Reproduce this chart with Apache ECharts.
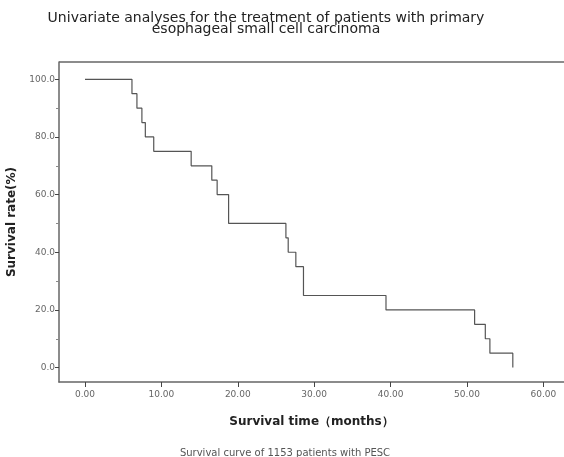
<!DOCTYPE html>
<html>
<head>
<meta charset="utf-8">
<script src="https://cdn.jsdelivr.net/npm/echarts@6/dist/echarts.min.js"></script>
<style>
  html, body { margin: 0; padding: 0; background: #fff; }
  #main { width: 564px; height: 457px; }
</style>
</head>
<body>
<div id="main"></div>
<script>
// survival data (months, %)
var times = [0, 6.15, 6.8, 7.45, 7.9, 9.0, 13.9, 16.6, 17.3, 18.8, 26.3, 26.6, 27.6, 28.6, 39.4, 51.0, 52.4, 53.0, 56.0];
var survival = [100, 95, 90, 85, 80, 75, 70, 65, 60, 50, 45, 40, 35, 25, 20, 15, 10, 5, 0];
var xTicks = [0, 10, 20, 30, 40, 50, 60];
var yTicks = [0, 20, 40, 60, 80, 100];
var yMinorTicks = [10, 30, 50, 70, 90];

var myChart = echarts.init(document.getElementById('main'));
var pts = times.map(function (t, i) { return [t, survival[i]]; });

var option = {
	backgroundColor: '#fff',
	animation: false,
	title: [
		{
			text: 'Univariate analyses for the treatment of patients with primary\nesophageal small cell carcinoma',
			left: 261, top: 8, textAlign: 'center',
			textStyle: { fontFamily: 'DejaVu Sans', fontSize: 14, fontWeight: 'normal', color: '#222', lineHeight: 11 }
		},
		{
			text: 'Survival curve of 1153 patients with PESC',
			left: 280, top: 443, textAlign: 'center',
			textStyle: { fontFamily: 'DejaVu Sans', fontSize: 10, fontWeight: 'normal', color: '#555' }
		}
	],
	grid: { left: 59, top: 62, right: 0, bottom: 75, outerBoundsMode: 'none', containLabel: false },
	xAxis: {
		type: 'value', min: -3.4, max: 62.7,
		name: 'Survival time\uff08months\uff09', nameLocation: 'middle', nameGap: 34,
		nameTextStyle: { fontFamily: 'DejaVu Sans', fontWeight: 'bold', fontSize: 12, color: '#222' },
		splitLine: { show: false },
		axisLine: { onZero: false, lineStyle: { color: '#666', width: 1.5 } },
		axisTick: { customValues: xTicks, length: 5, lineStyle: { color: '#444' } },
		axisLabel: {
			customValues: xTicks, margin: 8,
			fontFamily: 'DejaVu Sans', fontSize: 9, color: '#666',
			formatter: function (v) { return v.toFixed(2); }
		}
	},
	yAxis: [
		{
			type: 'value', min: -5, max: 106,
			name: 'Survival rate(%)', nameLocation: 'middle', nameGap: 38,
			nameTextStyle: { fontFamily: 'DejaVu Sans', fontWeight: 'bold', fontSize: 12, color: '#222' },
			splitLine: { show: false },
			axisLine: { onZero: false, lineStyle: { color: '#666', width: 1.5 } },
			axisTick: { customValues: yTicks, length: 4, lineStyle: { color: '#444' } },
			axisLabel: {
				customValues: yTicks, margin: 4,
				fontFamily: 'DejaVu Sans', fontSize: 9, color: '#666',
				formatter: function (v) { return v.toFixed(1); }
			}
		},
		{
			// minor ticks only
			type: 'value', min: -5, max: 106, position: 'left', offset: 0,
			splitLine: { show: false },
			axisLine: { show: false, onZero: false },
			axisTick: { customValues: yMinorTicks, length: 3, lineStyle: { color: '#888' } },
			axisLabel: { show: false }
		}
	],
	graphic: [
		{ type: 'line', shape: { x1: 59, y1: 62, x2: 564, y2: 62 }, style: { stroke: '#666', lineWidth: 1.5 } }
	],
	series: [
		{
			type: 'line', step: 'end', data: pts,
			symbol: 'none',
			lineStyle: { color: '#555', width: 1.2 }
		}
	]
};
myChart.setOption(option);
</script>
</body>
</html>
